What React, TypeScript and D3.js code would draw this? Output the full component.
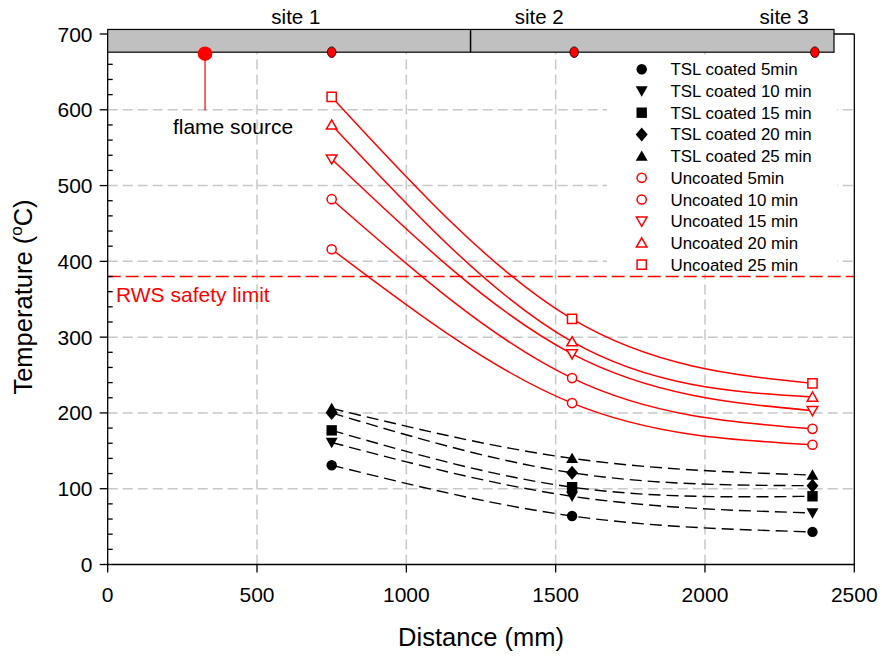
import React from "react";
import * as d3 from "d3";

// ---------- data ----------
const distances = [750, 1555, 2360];

const tsl5 = [131, 64, 43];
const tsl10 = [161, 90, 68];
const tsl15 = [177, 102, 90];
const tsl20 = [200, 121, 104];
const tsl25 = [206, 140, 118];

const unc5 = [416, 213, 158];
const unc10 = [482, 246, 179];
const unc15 = [535, 278, 203];
const unc20 = [580, 294, 221];
const unc25 = [617, 324, 239];

const tslNames = ["TSL coated 5min", "TSL coated 10 min", "TSL coated 15 min", "TSL coated 20 min", "TSL coated 25 min"];
const uncNames = ["Uncoated 5min", "Uncoated 10 min", "Uncoated 15 min", "Uncoated 20 min", "Uncoated 25 min"];
const markerKinds = ["circle", "triangleDown", "square", "diamond", "triangleUp"];
const uncMarkerKinds = ["circle", "circle", "triangleDown", "triangleUp", "square"];

const xTicks = [0, 500, 1000, 1500, 2000, 2500];
const yTicks = [0, 100, 200, 300, 400, 500, 600, 700];
const yMinorTicks = d3.range(0, 701, 20);

const siteLabels = ["site 1", "site 2", "site 3"];
const siteLabelX = [630, 1445, 2265];
const siteDotX = [750, 1562, 2368];
const barStart = 0;
const barDivider = 1215;
const barEnd = 2432;
const barTop = 706;
const barBottom = 676;
const flameX = 326;
const flameY = 674;
const flameLineEnd = 599;
const rwsLimit = 380;

// ---------- layout ----------
const W = 882;
const H = 657;
const x = d3.scaleLinear().domain([0, 2500]).range([107.7, 854.3]);
const y = d3.scaleLinear().domain([0, 700]).range([564.5, 34]);

const FONT = "'Liberation Sans', Arial, Helvetica, sans-serif";

function markerPath(kind: string, s: number): string {
  switch (kind) {
    case "circle":
      return d3.symbol(d3.symbolCircle, Math.PI * s * s)()!;
    case "square":
      return `M${-s},${-s}H${s}V${s}H${-s}Z`;
    case "diamond":
      return `M0,${-s * 1.35}L${s * 1.15},0L0,${s * 1.35}L${-s * 1.15},0Z`;
    case "triangleUp":
      return `M0,${-s * 1.1}L${s * 1.15},${s * 0.9}L${-s * 1.15},${s * 0.9}Z`;
    case "triangleDown":
      return `M0,${s * 1.1}L${s * 1.15},${-s * 0.9}L${-s * 1.15},${-s * 0.9}Z`;
  }
  return "";
}

const line = d3
  .line<[number, number]>()
  .x((d) => x(d[0]))
  .y((d) => y(d[1]))
  .curve(d3.curveNatural);

export default function App() {
  const tslSeries = [tsl5, tsl10, tsl15, tsl20, tsl25];
  const uncSeries = [unc5, unc10, unc15, unc20, unc25];

  const legendX = 641.7;
  const legendTextX = 670.5;
  const legendY0 = 69.3;
  const legendStep = 21.7;

  return (
    <svg
      width={W}
      height={H}
      style={{ position: "absolute", left: 0, top: 0, background: "#fff" }}
      fontFamily={FONT}
    >
      <rect x={0} y={0} width={W} height={H} fill="#fff" />
      {/* grid */}
      <g stroke="#c8c8c8" strokeWidth={1.5} strokeDasharray="10,5">
        {xTicks.slice(1, -1).map((t) => (
          <line key={"gx" + t} x1={x(t)} x2={x(t)} y1={y(0)} y2={y(barBottom)} />
        ))}
        {yTicks.slice(1, -1).map((t) => (
          <line key={"gy" + t} x1={x(0)} x2={x(2500)} y1={y(t)} y2={y(t)} />
        ))}
      </g>

      {/* legend background */}
      <rect x={607} y={58} width={230} height={216} fill="#fff" />

      {/* RWS limit */}
      <line
        x1={x(0)}
        x2={x(2500)}
        y1={y(rwsLimit)}
        y2={y(rwsLimit)}
        stroke="#ff0000"
        strokeWidth={1.5}
        strokeDasharray="13,5"
      />
      <text x={116} y={302} fontSize={21} fill="#ff0000">
        RWS safety limit
      </text>

      {/* TSL lines */}
      {tslSeries.map((vals, i) => (
        <path
          key={"tl" + i}
          d={line(distances.map((d, j) => [d, vals[j]]))!}
          fill="none"
          stroke="#000"
          strokeWidth={1.4}
          strokeDasharray="12,6"
        />
      ))}
      {/* uncoated lines */}
      {uncSeries.map((vals, i) => (
        <path
          key={"ul" + i}
          d={line(distances.map((d, j) => [d, vals[j]]))!}
          fill="none"
          stroke="#ff0000"
          strokeWidth={1.5}
        />
      ))}
      {/* markers */}
      {tslSeries.map((vals, i) =>
        vals.map((v, j) => (
          <path
            key={"tm" + i + "-" + j}
            transform={`translate(${x(distances[j])},${y(v)})`}
            d={markerPath(markerKinds[i], markerKinds[i] === "circle" ? 5.2 : 5.2)}
            fill="#000"
          />
        ))
      )}
      {uncSeries.map((vals, i) =>
        vals.map((v, j) => (
          <path
            key={"um" + i + "-" + j}
            transform={`translate(${x(distances[j])},${y(v)})`}
            d={markerPath(uncMarkerKinds[i], uncMarkerKinds[i] === "circle" ? 4.6 : 4.6)}
            fill="#fff"
            stroke="#ff0000"
            strokeWidth={1.5}
          />
        ))
      )}

      {/* legend */}
      {tslNames.map((n, i) => (
        <g key={"lt" + i}>
          <path
            transform={`translate(${legendX},${legendY0 + i * legendStep})`}
            d={markerPath(markerKinds[i], 5.2)}
            fill="#000"
          />
          <text x={legendTextX} y={legendY0 + i * legendStep + 6} fontSize={16.9} fill="#000">
            {n}
          </text>
        </g>
      ))}
      {uncNames.map((n, i) => (
        <g key={"lu" + i}>
          <path
            transform={`translate(${legendX},${legendY0 + (i + 5) * legendStep})`}
            d={markerPath(uncMarkerKinds[i], 4.6)}
            fill="#fff"
            stroke="#ff0000"
            strokeWidth={1.5}
          />
          <text x={legendTextX} y={legendY0 + (i + 5) * legendStep + 6} fontSize={16.9} fill="#000">
            {n}
          </text>
        </g>
      ))}

      {/* frame */}
      <g stroke="#000" strokeWidth={1.3} fill="none">
        <line x1={x(0)} x2={x(0)} y1={y(0)} y2={y(700)} />
        <line x1={x(0)} x2={x(2500)} y1={y(0)} y2={y(0)} />
        <line x1={x(2500)} x2={x(2500)} y1={y(0)} y2={y(700)} />
        <line x1={x(0)} x2={x(2500)} y1={y(700)} y2={y(700)} />
        {xTicks.map((t) => (
          <line key={"xt" + t} x1={x(t)} x2={x(t)} y1={y(0)} y2={y(0) + 8} />
        ))}
        {yTicks.map((t) => (
          <line key={"yt" + t} x1={x(0) - 8} x2={x(0)} y1={y(t)} y2={y(t)} />
        ))}
        {yMinorTicks
          .filter((t) => t % 100 !== 0)
          .map((t) => (
            <line key={"ym" + t} x1={x(0)} x2={x(0) + 5} y1={y(t)} y2={y(t)} />
          ))}
      </g>

      {/* top bar */}
      <rect
        x={x(barStart)}
        y={y(barTop)}
        width={x(barEnd) - x(barStart)}
        height={y(barBottom) - y(barTop)}
        fill="#c0c0c0"
        stroke="#000"
        strokeWidth={1.2}
      />
      <line x1={x(barDivider)} x2={x(barDivider)} y1={y(barTop)} y2={y(barBottom)} stroke="#000" strokeWidth={1.5} />
      {siteDotX.map((s, i) => (
        <ellipse key={"sd" + i} cx={x(s)} cy={y(barBottom)} rx={4.3} ry={5.3} fill="#ff0000" stroke="#000" strokeWidth={0.8} />
      ))}
      {siteLabels.map((s, i) => (
        <text key={"sl" + i} x={x(siteLabelX[i])} y={24} fontSize={20.5} textAnchor="middle" fill="#000">
          {s}
        </text>
      ))}

      {/* flame source */}
      <line x1={x(flameX)} x2={x(flameX)} y1={y(flameY)} y2={y(flameLineEnd)} stroke="#ff0000" strokeWidth={1.2} />
      <circle cx={x(flameX)} cy={y(flameY)} r={7.3} fill="#ff0000" />
      <text x={233} y={134} fontSize={21} textAnchor="middle" fill="#000">
        flame source
      </text>

      {/* tick labels */}
      {xTicks.map((t) => (
        <text key={"xl" + t} x={x(t)} y={601.5} fontSize={21} textAnchor="middle" fill="#000">
          {t}
        </text>
      ))}
      {yTicks.map((t) => (
        <text key={"yl" + t} x={92.5} y={y(t) + 7.5} fontSize={21} textAnchor="end" fill="#000">
          {t}
        </text>
      ))}

      {/* axis titles */}
      <text x={481} y={646} fontSize={25.5} textAnchor="middle" fill="#000">
        Distance (mm)
      </text>
      <text transform="translate(32,297) rotate(-90)" fontSize={25.5} textAnchor="middle" fill="#000">
        Temperature (
        <tspan fontSize={17} dy={-10}>
          o
        </tspan>
        <tspan dy={10}>C)</tspan>
      </text>
    </svg>
  );
}
